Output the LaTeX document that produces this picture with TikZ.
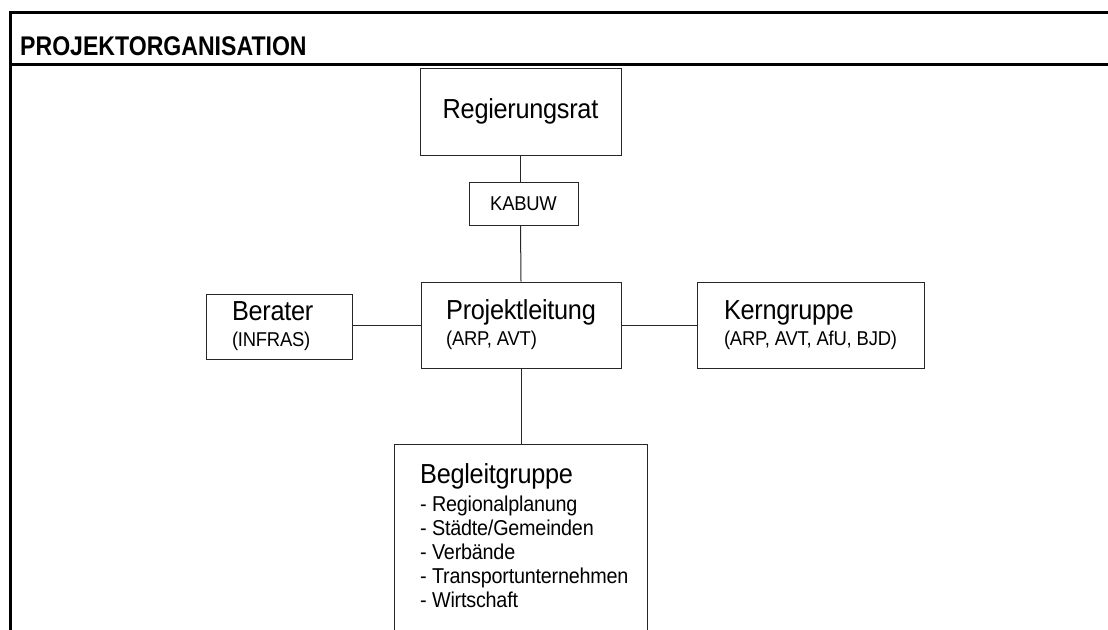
\documentclass[tikz,border=0pt]{standalone}
\usepackage{fontspec}
\setmainfont{Liberation Sans}
\newfontfamily\tightfont[FakeStretch=0.92,LetterSpace=-1]{Liberation Sans}
\newcommand{\bigtxt}{\tightfont\fontsize{27.5}{28}\selectfont}
\newcommand{\smalltxt}{\tightfont\fontsize{20}{26}\selectfont}
\newcommand{\listtxt}{\tightfont\fontsize{21.5}{24}\selectfont}
\begin{document}
\begin{tikzpicture}[x=1pt,y=-1pt,
  box/.style={draw=black!85, line width=1pt, fill=white, inner sep=0pt, align=left, font=\smalltxt},
  conn/.style={draw=black!85, line width=1pt},
  frame/.style={line width=3pt, black}]
\useasboundingbox (0,0) rectangle (1108,629);
\clip (0,0) rectangle (1108,629);
% frame
\draw[frame] (1110,12.5) -- (10.5,12.5) -- (10.5,640);
\draw[frame] (10.5,64) -- (1110,64);
\node[anchor=base west, inner sep=0pt, font=\bfseries\fontsize{27}{27}\selectfont] (title) at (20,55) {\scalebox{0.855}[1]{PROJEKTORGANISATION}};
% boxes
\node[box, minimum width=201, minimum height=87] (rr) at (520.5,111.5) {\bigtxt Regierungsrat};
\node[box, minimum width=109, minimum height=43] (kab) at (523.5,203.5) {\smalltxt KABUW};
\node[box, minimum width=200, minimum height=86] (pl) at (521,325) {{\bigtxt Projektleitung}\\{\smalltxt (ARP, AVT)}};
\node[box, minimum width=146, minimum height=65, text width=94, inner xsep=26] (ber) at (279,326.5) {{\bigtxt Berater}\\{\smalltxt (INFRAS)}};
\node[box, minimum width=227, minimum height=86] (kern) at (810.5,325) {{\bigtxt Kerngruppe}\\{\smalltxt (ARP, AVT, AfU, BJD)}};
\node[box, anchor=north west, minimum width=253, minimum height=220] (bg) at (394,444) {};
\node[anchor=north west, inner sep=0pt, align=left, font=\listtxt] (bgtext) at (420,463) {{\bigtxt Begleitgruppe}\\[4pt]- Regionalplanung\\- Städte/Gemeinden\\- Verbände\\- Transportunternehmen\\- Wirtschaft};
% connectors
\draw[conn] (rr.south) -- (rr.south |- kab.north);
\draw[conn] (rr.south |- kab.south) -- (pl.north);
\draw[conn] (ber.east |- pl.west) -- (pl.west);
\draw[conn] (pl.east) -- (kern.west);
\draw[conn] (pl.south) -- (pl.south |- bg.north);
\end{tikzpicture}
\end{document}
